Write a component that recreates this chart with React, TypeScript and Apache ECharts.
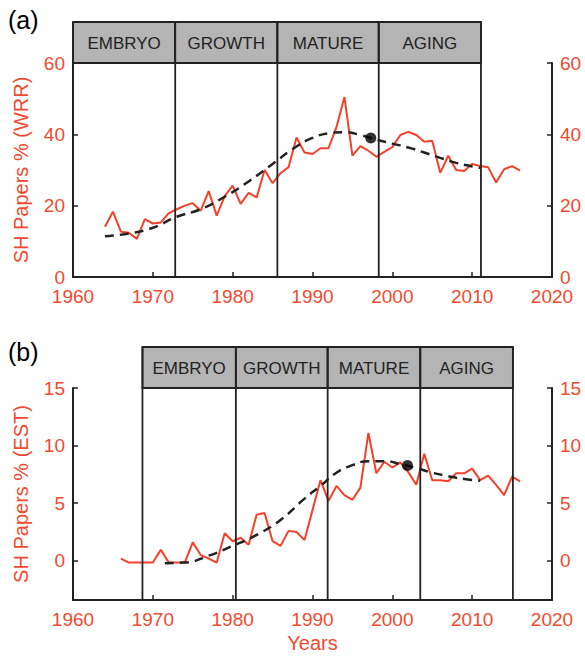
import React, { useEffect, useRef } from "react";
import * as echarts from "echarts";

// ---------- Data ----------
const phaseNames = ["EMBRYO", "GROWTH", "MATURE", "AGING"];

// Panel (a) - WRR
const wrrYears = [
  1964, 1965, 1966, 1967, 1968, 1969, 1970, 1971, 1972, 1973, 1974, 1975, 1976, 1977,
  1978, 1979, 1980, 1981, 1982, 1983, 1984, 1985, 1986, 1987, 1988, 1989, 1990, 1991,
  1992, 1993, 1994, 1995, 1996, 1997, 1998, 1999, 2000, 2001, 2002, 2003, 2004, 2005,
  2006, 2007, 2008, 2009, 2010, 2011, 2012, 2013, 2014, 2015, 2016,
];
const wrrValues = [
  14.1, 18.3, 12.7, 12.4, 10.7, 16.2, 15.0, 15.3, 17.9, 19.0, 20.0, 20.7, 18.6, 24.1,
  17.2, 22.7, 25.6, 20.5, 23.6, 22.3, 30.0, 26.3, 29.1, 30.8, 39.1, 34.9, 34.5, 36.1,
  36.1, 42.0, 50.5, 34.0, 36.7, 35.4, 33.7, 35.1, 36.4, 39.8, 40.7, 39.8, 37.9, 38.2,
  29.2, 34.0, 30.0, 29.7, 31.7, 31.1, 30.8, 26.5, 30.2, 31.1, 29.8,
];
const wrrTrendYears = [
  1964, 1967, 1970, 1973, 1976, 1979, 1982, 1985, 1988, 1990, 1992, 1994, 1996, 1998,
  2000, 2002, 2004, 2006, 2008, 2010, 2011,
];
const wrrTrendValues = [
  11.4, 12.2, 13.8, 16.9, 19.0, 22.5, 26.8, 31.7, 36.6, 39.0, 40.3, 40.6, 39.8, 38.5,
  37.4, 36.3, 34.9, 33.4, 32.0, 31.0, 30.6,
];
const wrrPeak = [1997.3, 39.0];
const wrrPhaseBounds = [1960, 1972.8, 1985.6, 1998.3, 2011.1];

// Panel (b) - EST
const estYears = [
  1966, 1967, 1968, 1969, 1970, 1971, 1972, 1973, 1974, 1975, 1976, 1977, 1978, 1979,
  1980, 1981, 1982, 1983, 1984, 1985, 1986, 1987, 1988, 1989, 1990, 1991, 1992, 1993,
  1994, 1995, 1996, 1997, 1998, 1999, 2000, 2001, 2002, 2003, 2004, 2005, 2006, 2007,
  2008, 2009, 2010, 2011, 2012, 2013, 2014, 2015, 2016,
];
const estValues = [
  0.2, -0.15, -0.15, -0.15, -0.15, 0.95, -0.15, -0.15, -0.15, 1.6, 0.5, 0.2, -0.15, 2.4,
  1.7, 2.0, 1.4, 4.0, 4.15, 1.7, 1.3, 2.6, 2.5, 1.8, 4.4, 7.0, 5.2, 6.5,
  5.7, 5.3, 6.35, 11.1, 7.6, 8.6, 8.1, 8.55, 7.7, 6.6, 9.3, 7.0, 7.0, 6.9,
  7.6, 7.6, 8.0, 7.0, 7.4, 6.6, 5.7, 7.3, 6.9,
];
const estTrendYears = [
  1971.5, 1974, 1977, 1980, 1983, 1986, 1989, 1991, 1993, 1995, 1997, 1999, 2001, 2003,
  2005, 2007, 2009, 2011,
];
const estTrendValues = [
  -0.2, -0.15, 0.45, 1.3, 2.25, 3.55, 5.4, 6.5, 7.65, 8.3, 8.65, 8.65, 8.4, 8.05,
  7.65, 7.35, 7.1, 6.95,
];
const estPeak = [2001.9, 8.28];
const estPhaseBounds = [1968.7, 1980.4, 1991.9, 2003.5, 2015.1];

const xTicks = { min: 1960, max: 2020, interval: 10 };
const wrrTicks = { min: 0, max: 60, interval: 20 };
const estRange = { min: -3.4, max: 15 };
const estTickValues = [0, 5, 10, 15];

// ---------- Styles ----------
const RED = "#f24a2e";
const LINE_RED = "#f5412a";
const DARK = "#222222";
const FONT = "Liberation Sans, Arial, sans-serif";
const LABEL_SIZE = 19;

const zip = (xs: number[], ys: number[]) => xs.map((x, i) => [x, ys[i]]);
const plain = (v: number) => String(v);

export default function App() {
  const ref = useRef<HTMLDivElement>(null);

  useEffect(() => {
    const chart = echarts.init(ref.current!, null, { renderer: "svg" });

    const xAxisBase = (gridIndex: number, withName: boolean) => ({
      gridIndex,
      type: "value",
      min: xTicks.min,
      max: xTicks.max,
      interval: xTicks.interval,
      name: withName ? "Years" : "",
      nameLocation: "middle",
      nameGap: 33,
      nameTextStyle: { color: RED, fontSize: 20, fontFamily: FONT },
      axisLine: { show: true, onZero: false, lineStyle: { color: DARK, width: 2 } },
      axisTick: { show: true, inside: true, length: 5, lineStyle: { color: DARK, width: 1.5 } },
      axisLabel: { color: RED, fontSize: LABEL_SIZE, fontFamily: FONT, margin: 10, formatter: plain },
      splitLine: { show: false },
    });

    const yAxisBase = (gridIndex: number, position: string, name: string) => ({
      gridIndex,
      type: "value",
      position,
      name,
      nameLocation: "middle",
      nameGap: 42,
      nameRotate: 90,
      nameTextStyle: { color: RED, fontSize: 20, fontFamily: FONT },
      axisLine: { show: true, onZero: false, lineStyle: { color: DARK, width: 2 } },
      axisTick: { show: true, inside: true, length: 5, lineStyle: { color: DARK, width: 1.5 } },
      axisLabel: { color: RED, fontSize: LABEL_SIZE, fontFamily: FONT, margin: 8, formatter: plain },
      splitLine: { show: false },
    });

    const estLabel = { color: RED, fontSize: LABEL_SIZE, fontFamily: FONT, margin: 8, formatter: plain, customValues: estTickValues };
    const estTick = { show: true, inside: true, length: 5, customValues: estTickValues, lineStyle: { color: DARK, width: 1.5 } };

    const option: any = {
      animation: false,
      backgroundColor: "#ffffff",
      grid: [
        { left: 73, right: 33, top: 63, height: 214 },
        { left: 73, right: 33, top: 388, height: 212 },
      ],
      xAxis: [xAxisBase(0, false), xAxisBase(1, true)],
      yAxis: [
        { ...yAxisBase(0, "left", "SH Papers % (WRR)"), ...wrrTicks },
        { ...yAxisBase(0, "right", ""), ...wrrTicks },
        { ...yAxisBase(1, "left", "SH Papers % (EST)"), ...estRange, axisLabel: estLabel, axisTick: estTick },
        { ...yAxisBase(1, "right", ""), ...estRange, axisLabel: estLabel, axisTick: estTick },
      ],
      series: [
        {
          type: "line",
          xAxisIndex: 0,
          yAxisIndex: 0,
          data: zip(wrrYears, wrrValues),
          showSymbol: false,
          lineStyle: { color: LINE_RED, width: 2 },
          z: 3,
        },
        {
          type: "line",
          xAxisIndex: 0,
          yAxisIndex: 0,
          data: zip(wrrTrendYears, wrrTrendValues),
          smooth: true,
          showSymbol: false,
          lineStyle: { color: DARK, width: 2.5, type: [9, 6] },
          z: 4,
        },
        {
          type: "scatter",
          xAxisIndex: 0,
          yAxisIndex: 0,
          data: [wrrPeak],
          symbolSize: 11,
          itemStyle: { color: "#000" },
          z: 5,
        },
        {
          type: "line",
          xAxisIndex: 1,
          yAxisIndex: 2,
          data: zip(estYears, estValues),
          showSymbol: false,
          lineStyle: { color: LINE_RED, width: 2 },
          z: 3,
        },
        {
          type: "line",
          xAxisIndex: 1,
          yAxisIndex: 2,
          data: zip(estTrendYears, estTrendValues),
          smooth: true,
          showSymbol: false,
          lineStyle: { color: DARK, width: 2.5, type: [9, 6] },
          z: 4,
        },
        {
          type: "scatter",
          xAxisIndex: 1,
          yAxisIndex: 2,
          data: [estPeak],
          symbolSize: 11,
          itemStyle: { color: "#000" },
          z: 5,
        },
      ],
    };

    chart.setOption(option);

    const graphics: any[] = [];
    const addPanel = (xAxisIndex: number, bounds: number[], boxTop: number, boxBottom: number, axisBottom: number) => {
      const xs = bounds.map((b) => chart.convertToPixel({ xAxisIndex }, b) as number);
      for (let i = 0; i < phaseNames.length; i++) {
        graphics.push({
          type: "rect",
          shape: { x: xs[i], y: boxTop, width: xs[i + 1] - xs[i], height: boxBottom - boxTop },
          style: { fill: "#b4b4b4", stroke: DARK, lineWidth: 1.8 },
          z: 10,
        });
        graphics.push({
          type: "text",
          x: (xs[i] + xs[i + 1]) / 2,
          y: (boxTop + boxBottom) / 2 + 1,
          style: {
            text: phaseNames[i],
            fill: DARK,
            fontSize: 17,
            fontFamily: FONT,
            textAlign: "center",
            textVerticalAlign: "middle",
            align: "center",
            verticalAlign: "middle",
          },
          z: 11,
        });
      }
      xs.forEach((x) => {
        graphics.push({
          type: "line",
          shape: { x1: x, y1: boxTop, x2: x, y2: axisBottom },
          style: { stroke: DARK, lineWidth: 1.8 },
          z: 10,
        });
      });
    };
    addPanel(0, wrrPhaseBounds, 22, 63, 277);
    addPanel(1, estPhaseBounds, 347, 388, 600);

    graphics.push({
      type: "text",
      x: 8,
      y: 20,
      style: { text: "(a)", fill: "#000", fontSize: 25, fontFamily: FONT, textVerticalAlign: "middle", verticalAlign: "middle" },
    });
    graphics.push({
      type: "text",
      x: 8,
      y: 352,
      style: { text: "(b)", fill: "#000", fontSize: 25, fontFamily: FONT, textVerticalAlign: "middle", verticalAlign: "middle" },
    });

    chart.setOption({ graphic: graphics });

    return () => chart.dispose();
  }, []);

  return (
    <div
      ref={ref}
      style={{ position: "fixed", left: 0, top: 0, width: 585, height: 658, background: "#fff" }}
    />
  );
}
